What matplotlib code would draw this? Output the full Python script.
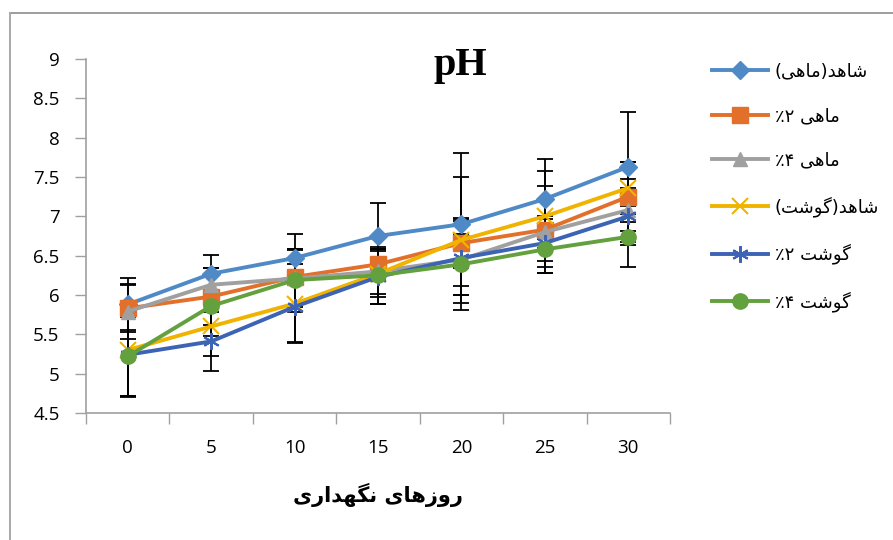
import matplotlib
matplotlib.use("Agg")
import matplotlib.pyplot as plt
from matplotlib.lines import Line2D

# ---------------- data ----------------
days = [0, 5, 10, 15, 20, 25, 30]
series_names = ["شاهد(ماهی)", "ماهی ۲٪", "ماهی ۴٪", "شاهد(گوشت)", "گوشت ۲٪", "گوشت ۴٪"]
fish_ctrl = [5.88, 6.27, 6.47, 6.75, 6.90, 7.22, 7.63]
fish_2 = [5.83, 5.98, 6.23, 6.39, 6.66, 6.83, 7.25]
fish_4 = [5.79, 6.13, 6.21, 6.30, 6.45, 6.80, 7.08]
meat_ctrl = [5.30, 5.60, 5.89, 6.27, 6.70, 7.00, 7.36]
meat_2 = [5.24, 5.41, 5.85, 6.23, 6.47, 6.66, 7.00]
meat_4 = [5.22, 5.86, 6.19, 6.25, 6.39, 6.58, 6.74]
fish_ctrl_err = [0.33, 0.24, 0.30, 0.42, 0.90, 0.51, 0.70]
fish_2_err = [0.30, 0.36, 0.36, 0.20, 0.32, 0.55, 0.44]
fish_4_err = [0.35, 0.21, 0.36, 0.29, 0.33, 0.20, 0.40]
meat_ctrl_err = [0.60, 0.38, 0.50, 0.29, 0.80, 0.57, 0.33]
meat_2_err = [0.52, 0.38, 0.45, 0.35, 0.47, 0.30, 0.36]
meat_4_err = [0.50, 0.38, 0.40, 0.36, 0.58, 0.30, 0.39]
y_ticks = [4.5, 5, 5.5, 6, 6.5, 7, 7.5, 8, 8.5, 9]
y_tick_labels = ["4.5", "5", "5.5", "6", "6.5", "7", "7.5", "8", "8.5", "9"]
title_text = "pH"
xlabel_text = "روزهای نگهداری"

values = [fish_ctrl, fish_2, fish_4, meat_ctrl, meat_2, meat_4]
errors = [fish_ctrl_err, fish_2_err, fish_4_err, meat_ctrl_err, meat_2_err, meat_4_err]
colors = ["#4F8AC6", "#E2702B", "#A0A0A0", "#F0B400", "#3D63B4", "#63A03E"]
markers = ["D", "s", "^", "x", (6, 2, 0), "o"]
msizes = [9, 11, 10, 11, 12, 11]

# ---------------- simple Persian shaping ----------------
FORMS = {
    "ش": ("\uFEB5", "\uFEB6", "\uFEB7", "\uFEB8"),
    "ا": ("\uFE8D", "\uFE8E", None, None),
    "ه": ("\uFEE9", "\uFEEA", "\uFEEB", "\uFEEC"),
    "د": ("\uFEA9", "\uFEAA", None, None),
    "م": ("\uFEE1", "\uFEE2", "\uFEE3", "\uFEE4"),
    "ی": ("\uFBFC", "\uFBFD", "\uFBFE", "\uFBFF"),
    "گ": ("\uFB92", "\uFB93", "\uFB94", "\uFB95"),
    "و": ("\uFEED", "\uFEEE", None, None),
    "ت": ("\uFE95", "\uFE96", "\uFE97", "\uFE98"),
    "ر": ("\uFEAD", "\uFEAE", None, None),
    "ز": ("\uFEAF", "\uFEB0", None, None),
    "ن": ("\uFEE5", "\uFEE6", "\uFEE7", "\uFEE8"),
}
MIRROR = {"(": ")", ")": "("}


def dual(c):
    return c in FORMS and FORMS[c][2] is not None


def joins(c):
    return c in FORMS


def shape(s):
    out = []
    for i, c in enumerate(s):
        if c not in FORMS:
            out.append(MIRROR.get(c, c))
            continue
        prev = s[i - 1] if i > 0 else ""
        nxt = s[i + 1] if i + 1 < len(s) else ""
        jp = dual(prev)
        jn = dual(c) and joins(nxt)
        iso, fin, ini, med = FORMS[c]
        if jp and jn:
            g = med
        elif jp:
            g = fin
        elif jn:
            g = ini
        else:
            g = iso
        out.append(g)
    return "".join(reversed(out))


# ---------------- figure ----------------
W, H = 893, 540
fig = plt.figure(figsize=(W / 100, H / 100), dpi=100)
fig.patch.set_facecolor("white")

# outer chart border (top and left visible)
fig.add_artist(Line2D([10 / W, 1.0], [1 - 13 / H, 1 - 13 / H], transform=fig.transFigure,
                      color="#8c8c8c", lw=1.2))
fig.add_artist(Line2D([10 / W, 10 / W], [0, 1 - 13 / H], transform=fig.transFigure,
                      color="#a8a8a8", lw=1.4))

left, right, top, bottom = 86, 670, 59, 413
ax = fig.add_axes([left / W, 1 - bottom / H, (right - left) / W, (bottom - top) / H])

pos = list(range(len(days)))
for vals, errs in zip(values, errors):
    ax.errorbar(pos, vals, yerr=errs, fmt="none", ecolor="black", elinewidth=1.3,
                capsize=6, capthick=1.3, zorder=2)
for vals, col, mk, ms, name in zip(values, colors, markers, msizes, series_names):
    mew = 1.5 if mk in ("x", (6, 2, 0)) else 1
    ax.plot(pos, vals, color=col, lw=2.8, marker=mk, markersize=ms, markeredgewidth=mew,
            markeredgecolor=col, markerfacecolor=col, label=shape(name), zorder=3)

ax.set_xlim(-0.5, len(days) - 0.5)
ax.set_ylim(4.5, 9)
ax.set_yticks(y_ticks)
ax.set_yticklabels(y_tick_labels)
ax.set_xticks(pos)
ax.set_xticklabels([str(d) for d in days])
ax.set_xticks([p - 0.5 for p in range(len(days) + 1)], minor=True)
ax.tick_params(axis="x", which="major", length=0, pad=19)
ax.tick_params(axis="x", which="minor", length=8, width=1, color="#a0a0a0", direction="out")
ax.tick_params(axis="y", length=8, width=1, color="#a0a0a0", direction="out", pad=11)
for lab in ax.get_xticklabels() + ax.get_yticklabels():
    lab.set_fontfamily("Open Sans")
    lab.set_fontsize(13.5)
    lab.set_color("black")
for sp in ["top", "right"]:
    ax.spines[sp].set_visible(False)
for sp in ["left", "bottom"]:
    ax.spines[sp].set_color("#a0a0a0")
    ax.spines[sp].set_linewidth(1.2)

fig.text(460 / W, 1 - 65 / H, title_text, ha="center", va="center", fontsize=29,
         fontweight="bold", family="Liberation Serif")
fig.text(378 / W, 1 - 495 / H, shape(xlabel_text), ha="center", va="center", fontsize=15,
         fontweight="bold", family="DejaVu Sans")

leg = fig.legend(loc="upper left", bbox_to_anchor=(705 / W, 1 - 55 / H), frameon=False,
                 prop={"family": "DejaVu Sans", "size": 13}, handlelength=3.1,
                 labelspacing=1.48, handletextpad=0.35, borderaxespad=0)

fig.savefig("out.png", dpi=100, facecolor="white")
